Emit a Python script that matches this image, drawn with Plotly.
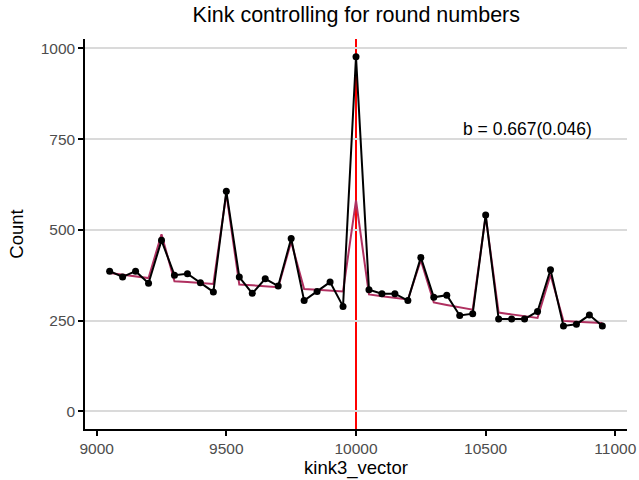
import plotly.graph_objects as go

# ---- data ----
bins = [9050, 9100, 9150, 9200, 9250, 9300, 9350, 9400, 9450, 9500,
        9550, 9600, 9650, 9700, 9750, 9800, 9850, 9900, 9950, 10000,
        10050, 10100, 10150, 10200, 10250, 10300, 10350, 10400, 10450, 10500,
        10550, 10600, 10650, 10700, 10750, 10800, 10850, 10900, 10950]

counts = [386, 370, 386, 353, 471, 375, 379, 354, 329, 606,
          370, 325, 365, 345, 476, 305, 330, 356, 289, 977,
          335, 324, 324, 305, 424, 314, 320, 264, 269, 541,
          254, 254, 254, 275, 390, 235, 240, 265, 235]

fitted = [381, 377, 372, 367, 488, 358, 356, 353, 351, 600,
          349, 347, 344, 342, 467, 337, 335, 332, 330, 581,
          322, 317, 313, 308, 416, 300, 293, 287, 280, 538,
          272, 267, 262, 257, 376, 249, 247, 245, 243]

kink_point = 10000
x_ticks = [9000, 9500, 10000, 10500, 11000]
x_tick_labels = ["9000", "9500", "10000", "10500", "11000"]
y_ticks = [0, 250, 500, 750, 1000]
y_tick_labels = ["0", "250", "500", "750", "1000"]
label_text = "b = 0.667(0.046)"
label_pos = (10660, 777)

title_text = "Kink controlling for round numbers"
x_title = "kink3_vector"
y_title = "Count"

FONT = "Liberation Sans, Arial, Helvetica, sans-serif"

fig = go.Figure()

fig.add_trace(go.Scatter(
    x=bins, y=fitted, mode="lines",
    line=dict(color="#B03060", width=2),
    hoverinfo="skip", showlegend=False,
))
fig.add_trace(go.Scatter(
    x=bins, y=counts, mode="lines+markers",
    line=dict(color="black", width=2),
    marker=dict(color="black", size=7),
    showlegend=False,
))

fig.add_shape(type="line", x0=kink_point, x1=kink_point, xref="x",
              y0=0, y1=1, yref="paper",
              line=dict(color="#FF0000", width=2), layer="below")

fig.add_annotation(x=label_pos[0], y=label_pos[1], text=label_text,
                   showarrow=False, xanchor="center", yanchor="middle",
                   font=dict(family=FONT, size=17.5, color="black"))

fig.update_layout(
    width=639, height=480,
    margin=dict(l=85, r=12, t=39, b=51),
    paper_bgcolor="white", plot_bgcolor="white",
    font=dict(family=FONT, color="black"),
    title=dict(text=title_text, x=0.5576, xanchor="center",
               y=0.969, yanchor="middle",
               font=dict(family=FONT, size=21.5, color="black")),
    showlegend=False,
)

fig.update_xaxes(
    range=[8955, 11045], tickvals=x_ticks, ticktext=x_tick_labels,
    showgrid=False, zeroline=False,
    showline=True, linecolor="black", linewidth=1.5,
    ticks="outside", ticklen=5, tickwidth=1.5, tickcolor="black",
    tickfont=dict(family=FONT, size=15.5, color="#4D4D4D"),
    title=dict(text=x_title, standoff=4,
               font=dict(family=FONT, size=18.5, color="black")),
    automargin=False,
)
fig.update_yaxes(
    range=[-48.9, 1025.9], tickvals=y_ticks, ticktext=y_tick_labels,
    showgrid=True, gridcolor="#DADADA", gridwidth=1.5,
    zeroline=False,
    showline=True, linecolor="black", linewidth=1.5,
    ticks="outside", ticklen=5, tickwidth=1.5, tickcolor="black",
    tickfont=dict(family=FONT, size=15.5, color="#4D4D4D"),
    title=dict(text=y_title, standoff=12,
               font=dict(family=FONT, size=18.5, color="black")),
    automargin=False,
)

fig.write_html("out.html",
               config={"displayModeBar": False},
               post_script="document.body.style.margin='0';document.body.style.overflow='hidden';")
